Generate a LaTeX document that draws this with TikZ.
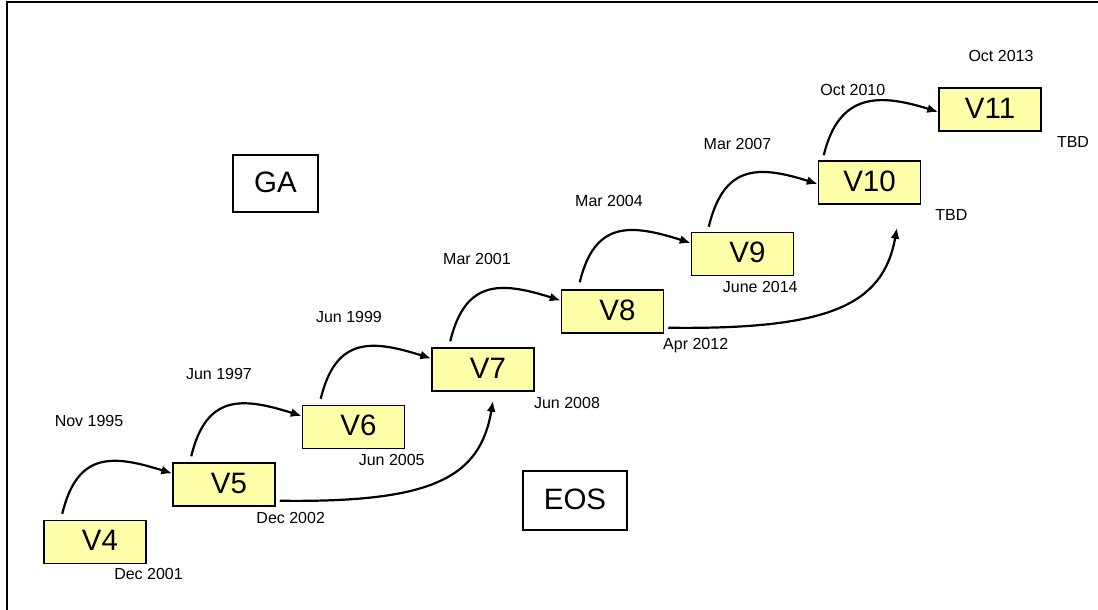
\documentclass[tikz,border=0pt]{standalone}
\usepackage{fontspec}
\setmainfont{Liberation Sans}
\usetikzlibrary{calc,arrows.meta}
\definecolor{boxfill}{RGB}{255,255,170}
\begin{document}
\begin{tikzpicture}[x=1pt,y=-1pt,
  verbox/.style={draw=black,line width=1.5pt,fill=boxfill,minimum width=102pt,minimum height=43pt,
    inner sep=0pt,font=\fontsize{29.5}{34}\selectfont,text height=21pt,text depth=4pt},
  tagbox/.style={draw=black,line width=1.5pt,fill=white,inner sep=0pt,
    font=\fontsize{29.5}{34}\selectfont,text height=21pt,text depth=4pt},
  datelbl/.style={font=\fontsize{16}{19}\selectfont,inner sep=0pt,text height=11.5pt,text depth=0pt},
  hop/.style={line width=2.2pt,-{Latex[length=11pt,width=9pt]}},
]
\useasboundingbox (0,0) rectangle (1098,610);
% frame lines
\draw[line width=1.6pt] (7,610) -- (7,2) -- (1098,2);

% legend boxes
\node[tagbox,minimum width=85pt,minimum height=57pt] (GA) at (275.5,183.5) {GA};
\node[tagbox,minimum width=104pt,minimum height=59pt] (EOS) at (575,500.5) {EOS};

% version boxes
\node[verbox] (V4)  at (95,542)      {\hspace*{10pt}V4};
\node[verbox] (V5)  at (224,484.5)   {\hspace*{10pt}V5};
\node[verbox] (V6)  at (353.5,427)   {\hspace*{10pt}V6};
\node[verbox] (V7)  at (483,369.5)   {\hspace*{10pt}V7};
\node[verbox] (V8)  at (612.5,311.5) {\hspace*{10pt}V8};
\node[verbox] (V9)  at (742.5,254)   {\hspace*{10pt}V9};
\node[verbox] (V10) at (869.5,182.5) {V10};
\node[verbox] (V11) at (990,109.5)   {V11};

% GA dates
\node[datelbl] (g4)  at (89,421)     {Nov 1995};
\node[datelbl] (g5)  at (219,374)    {Jun 1997};
\node[datelbl] (g6)  at (349,317)    {Jun 1999};
\node[datelbl] (g7)  at (477,258.3)  {Mar 2001};
\node[datelbl] (g8)  at (609,201)    {Mar 2004};
\node[datelbl] (g9)  at (737.5,143.3) {Mar 2007};
\node[datelbl] (g10) at (852.8,90)   {Oct 2010};
\node[datelbl] (g11) at (1001,56)    {Oct 2013};

% EOS dates
\node[datelbl] (e4)  at (148.5,574)  {Dec 2001};
\node[datelbl] (e5)  at (290.7,517.5) {Dec 2002};
\node[datelbl] (e6)  at (391.7,459.7) {Jun 2005};
\node[datelbl] (e7)  at (567,403)    {Jun 2008};
\node[datelbl] (e8)  at (695.7,344)  {Apr 2012};
\node[datelbl] (e9)  at (760.3,287)  {June 2014};
\node[datelbl] (e10) at (951.3,215)  {TBD};
\node[datelbl] (e11) at (1073,142)   {TBD};

% release-to-release arrows
\draw[hop] ($(V4.north west)+(19,-6)$) .. controls +(15,-62) and +(-60,-19) .. ($(V5.west)+(0,-11)$);
\draw[hop] ($(V5.north west)+(19,-6)$) .. controls +(15,-62) and +(-60,-19) .. ($(V6.west)+(0,-11)$);
\draw[hop] ($(V6.north west)+(19,-6)$) .. controls +(15,-62) and +(-60,-19) .. ($(V7.west)+(0,-11)$);
\draw[hop] ($(V7.north west)+(19,-6)$) .. controls +(15,-62) and +(-60,-19) .. ($(V8.west)+(0,-11)$);
\draw[hop] ($(V8.north west)+(19,-7)$) .. controls +(15,-62) and +(-60,-19) .. ($(V9.west)+(0,-11)$);
\draw[hop] ($(V9.north west)+(18,-5)$) .. controls +(15,-62) and +(-60,-19) .. ($(V10.west)+(0,1.5)$);
\draw[hop] ($(V10.north west)+(6,-5)$) .. controls +(15,-62) and +(-60,-19) .. ($(V11.west)+(0,2.5)$);

% end-of-service carry-over arrows
\draw[hop] ($(V5.south east)+(4,-6)$) .. controls +(151,2) and +(-13,78) .. ($(V7.south)+(10,9)$);
\draw[hop] ($(V8.south east)+(4,-6)$) .. controls +(160,2) and +(-14,78) .. ($(V10.south)+(27.5,23)$);
\end{tikzpicture}
\end{document}
